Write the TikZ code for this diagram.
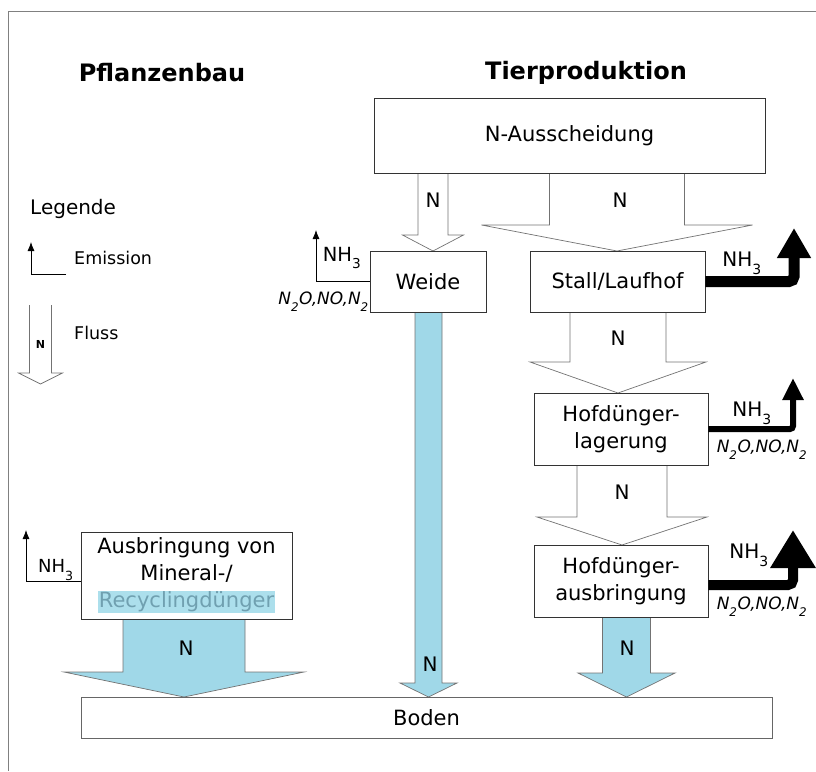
\documentclass[tikz,border=0pt]{standalone}
\usepackage{fontspec}
\setmainfont{DejaVu Sans}
\usetikzlibrary{arrows.meta}
\definecolor{flussblau}{RGB}{160,216,232}
\definecolor{markerblau}{RGB}{172,223,236}
\definecolor{markertext}{RGB}{112,160,176}
\setlength{\fboxsep}{1pt}
\newcommand{\pfeil}[7][fluss]{\draw[#1] ({#2-#6},#3) -- ({#2-#6},#4) -- ({#2-#7},#4) -- (#2,#5) -- ({#2+#7},#4) -- ({#2+#6},#4) -- ({#2+#6},#3);}
\newcommand{\unten}[1]{\raisebox{-0.45ex}{\textsubscript{#1}}}

\begin{document}
\begin{tikzpicture}[x=1pt,y=-1pt,
   box/.style={draw=black!80, fill=white, line width=0.9pt, align=center, inner sep=0pt, font=\fontsize{21}{27}\selectfont},
   fluss/.style={draw=black!55, line width=0.7pt, fill=white},
   blau/.style={fluss, fill=flussblau},
   emis/.style={draw=black, line width=0.8pt, -{Latex[length=9pt,width=7pt]}},
   nhgross/.style={draw=black, line width=11pt, rounded corners=5pt, -{Triangle[width=32pt,length=30pt]}},
   nhmittel/.style={draw=black, line width=6pt, rounded corners=3pt, -{Triangle[width=20pt,length=22pt]}},
   nhbreit/.style={draw=black, line width=10pt, rounded corners=5pt, -{Triangle[width=43pt,length=38pt]}},
   lab/.style={inner sep=0pt, font=\fontsize{20}{24}\selectfont},
   nh/.style={inner sep=0pt, font=\fontsize{20}{22}\selectfont},
   gas/.style={inner sep=0pt, font=\fontsize{17}{19}\selectfont\itshape},
   klein/.style={inner sep=0pt, font=\fontsize{17.5}{20}\selectfont},
   titel/.style={font=\fontsize{24}{28}\selectfont\bfseries}]
   \useasboundingbox (0,0) rectangle (816,771);
   \draw[black!50, line width=1pt] (816,11) -- (8,11) -- (8,771);

   \node[titel, name=pflanze] at (162,73) {Pflanzenbau};
   \node[titel, name=tier] at (586,73) {Tierproduktion};

   \node[inner sep=0pt, anchor=west, font=\fontsize{20}{22}\selectfont, name=legende] at (30,209) {Legende};
   \node[klein, anchor=west, name=emission] at (74,258) {Emission};
   \node[klein, anchor=west, name=flusstext] at (74,333) {Fluss};
   \coordinate (le1) at (66,274);
   \coordinate (le2) at (31,242);
   \draw[emis] (le1) -| (le2);
   \pfeil{40.5}{305}{373}{384}{11}{22}
   \node[inner sep=0pt, font=\bfseries\fontsize{11}{12}\selectfont, name=legn] at (40.5,344) {N};

   \pfeil{433}{173}{235}{251}{15}{30.5}
   \pfeil{617}{173}{225}{251}{67.5}{135.5}
   \pfeil{618}{312}{362}{393}{48}{88}
   \pfeil{622}{465}{517}{545}{45}{85}
   \pfeil[blau]{428.5}{312}{683}{697}{13.5}{28.5}
   \pfeil[blau]{626.5}{617}{673}{697}{24}{48.5}
   \pfeil[blau]{184}{619}{672}{697}{61}{120}

   \node[lab, name=n1] at (433,200) {N};
   \node[lab, name=n2] at (620,200) {N};
   \node[lab, name=n3] at (618,338) {N};
   \node[lab, name=n4] at (622,492) {N};
   \node[lab, name=n5] at (430,664) {N};
   \node[lab, name=n6] at (627,648) {N};
   \node[lab, name=n7] at (186,648) {N};

   \node[box, minimum width=391pt, minimum height=75pt, name=aus] at (569.5,135.5) {N-Ausscheidung};
   \node[box, minimum width=116pt, minimum height=61pt, name=weide] at (428,281.5) {Weide};
   \node[box, minimum width=175pt, minimum height=61pt, name=stall] at (617.5,281.5) {Stall/Laufhof};
   \node[box, minimum width=174pt, minimum height=72pt, name=lager] at (621,429) {Hofdünger-\\lagerung};
   \node[box, minimum width=174pt, minimum height=72pt, name=hofaus] at (621,581) {Hofdünger-\\ausbringung};
   \node[box, minimum width=211pt, minimum height=87pt, name=mineral] at (186.5,575.5) {Ausbringung von\\Mineral-/\\\colorbox{markerblau}{\color{markertext}Recyclingdünger}};
   \node[box, draw=black!60, minimum width=691pt, minimum height=41pt, name=boden] at (426.5,717.5) {Boden};

   \coordinate (w1) at (316,230);
   \draw[emis] (weide.west) -| (w1);
   \node[nh, font=\fontsize{19.5}{22}\selectfont, name=nhweide] at (342,258) {NH\unten{3}};
   \node[gas, anchor=east, name=gasweide] at (369,302) {N\unten{2}O,NO,N\unten{2}};

   \coordinate (s1) at (794,228);
   \draw[nhgross] (stall.east) -| (s1);
   \node[nh, name=nhstall] at (742,263) {NH\unten{3}};

   \coordinate (l1) at (793,378);
   \draw[nhmittel] (lager.east) -| (l1);
   \node[nh, name=nhlager] at (752,413) {NH\unten{3}};
   \node[gas, name=gaslager] at (762,450) {N\unten{2}O,NO,N\unten{2}};

   \coordinate (h1) at (793,530);
   \draw[nhbreit] ([yshift=-4pt]hofaus.east) -| (h1);
   \node[nh, name=nhhof] at (749,555) {NH\unten{3}};
   \node[gas, name=gashof] at (762,607) {N\unten{2}O,NO,N\unten{2}};

   \coordinate (m1) at (26,530);
   \draw[emis] ([yshift=-6pt]mineral.west) -| (m1);
   \node[inner sep=0pt, font=\fontsize{18}{20}\selectfont, name=nhmineral] at (56,570) {NH\unten{3}};
\end{tikzpicture}
\end{document}
